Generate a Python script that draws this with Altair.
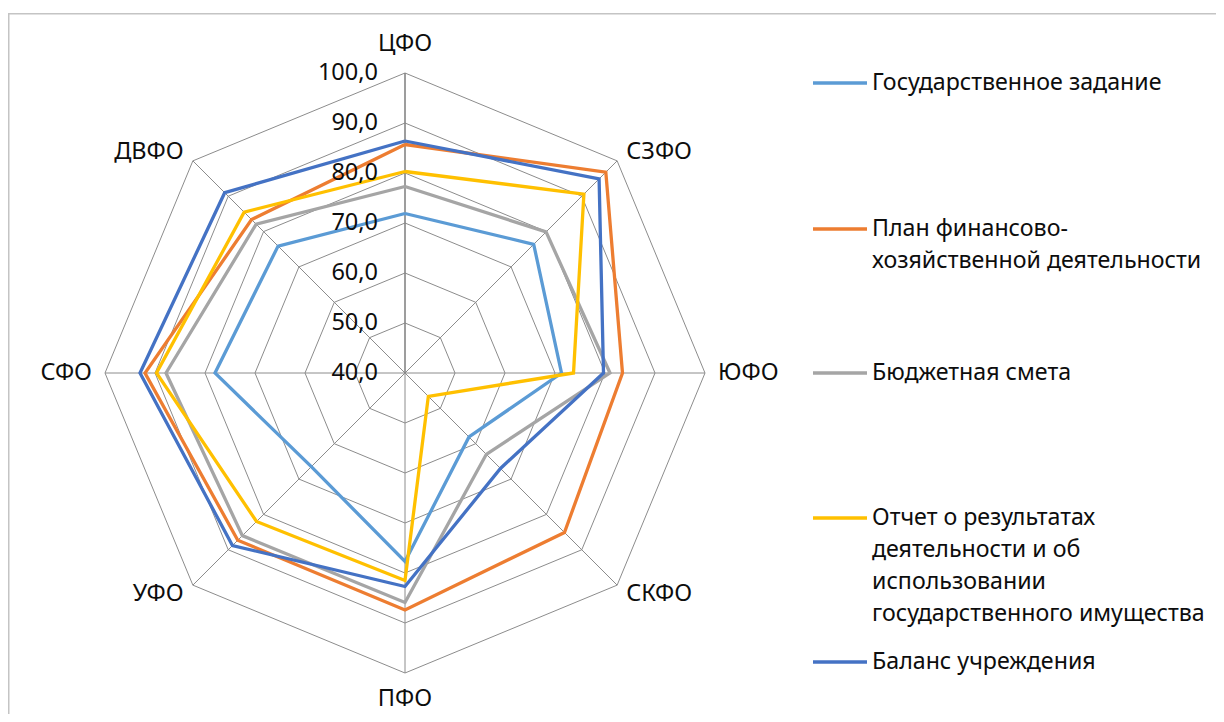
import altair as alt
import pandas as pd
import numpy as np

# ---------------- data ----------------
categories = ["ЦФО", "СЗФО", "ЮФО", "СКФО", "ПФО", "УФО", "СФО", "ДВФО"]
series_names = [
    "Государственное задание",
    "План финансово-хозяйственной деятельности",
    "Бюджетная смета",
    "Отчет о результатах деятельности и об использовании государственного имущества",
    "Баланс учреждения",
]
legend_lines = [
    ["Государственное задание"],
    ["План финансово-", "хозяйственной деятельности"],
    ["Бюджетная смета"],
    ["Отчет о результатах", "деятельности и об", "использовании", "государственного имущества"],
    ["Баланс учреждения"],
]
gos_zadanie = [71.9, 76.4, 71.3, 58.1, 77.7, 66.5, 78.0, 75.9]
plan_fhd = [85.7, 96.8, 83.5, 85.1, 87.4, 87.3, 92.0, 83.4]
byudzhet_smeta = [77.3, 79.9, 81.0, 63.0, 85.9, 86.0, 87.8, 82.1]
otchet = [80.3, 90.6, 73.7, 46.6, 81.5, 82.0, 89.7, 85.5]
balans = [86.4, 94.9, 79.7, 67.0, 82.7, 88.8, 93.0, 91.0]
series_values = [gos_zadanie, plan_fhd, byudzhet_smeta, otchet, balans]
ticks = [40, 50, 60, 70, 80, 90, 100]
tick_labels = ["40,0", "50,0", "60,0", "70,0", "80,0", "90,0", "100,0"]

# ---------------- styles ----------------
colors = ["#5B9BD5", "#ED7D31", "#A5A5A5", "#FFC000", "#4472C4"]
FONT = "Noto Sans"
TXT = "#0d0d0d"
GRID = "#8c8c8c"
W, H = 1208, 706
PX = 5.0  # pixels per value unit
CX, CY = 397.0, 365.0  # center in plot pixels
AXMIN = ticks[0]

xs = alt.Scale(domain=[-CX / PX, (W - CX) / PX], nice=False, zero=False)
ys = alt.Scale(domain=[-(H - CY) / PX, CY / PX], nice=False, zero=False)
X = lambda f: alt.X(f, type="quantitative", scale=xs, axis=None)
Y = lambda f: alt.Y(f, type="quantitative", scale=ys, axis=None)

n = len(categories)
ang = [2 * np.pi * i / n for i in range(n)]


def proj(v, i):
    r = v - AXMIN
    return r * np.sin(ang[i]), r * np.cos(ang[i])


def page_to_u(px):
    return (px - 8 - CX) / PX


def page_to_v(py):
    return (CY - (py - 8)) / PX


layers = []

# frame
frame = alt.Chart(pd.DataFrame({"a": [0]})).mark_rect(
    fill=None, stroke="#c4c4c4", strokeWidth=1.5
).encode(x=alt.value(0.75), y=alt.value(5.75), x2=alt.value(1400), y2=alt.value(900))
layers.append(frame)

# rings
rows = []
for t in ticks[1:]:
    for k in range(n + 1):
        x, y = proj(t, k % n)
        rows.append({"ring": t, "k": k, "x": x, "y": y})
rings = alt.Chart(pd.DataFrame(rows)).mark_line(color=GRID, strokeWidth=1).encode(
    x=X("x"), y=Y("y"), detail="ring:N", order="k:Q"
)
layers.append(rings)

# spokes
rows = []
for i in range(n):
    x, y = proj(ticks[-1], i)
    rows.append({"x": 0.0, "y": 0.0, "x2": x, "y2": y, "main": i == 0})
sp = pd.DataFrame(rows)
spokes = alt.Chart(sp[~sp.main]).mark_rule(color=GRID, strokeWidth=1).encode(
    x=X("x"), y=Y("y"), x2="x2", y2="y2"
)
main_axis = alt.Chart(sp[sp.main]).mark_rule(color="#858585", strokeWidth=1.6).encode(
    x=X("x"), y=Y("y"), x2="x2", y2="y2"
)
layers += [spokes, main_axis]

# series
for s, (name, vals) in enumerate(zip(series_names, series_values)):
    rows = []
    for k in range(n + 1):
        x, y = proj(vals[k % n], k % n)
        rows.append({"series": name, "category": categories[k % n], "k": k, "x": x, "y": y})
    layers.append(
        alt.Chart(pd.DataFrame(rows)).mark_line(color=colors[s], strokeWidth=3.3).encode(
            x=X("x"), y=Y("y"), order="k:Q"
        )
    )

# tick labels
tl = pd.DataFrame({"x": [0.0] * len(ticks), "y": [t - AXMIN for t in ticks], "label": tick_labels})
layers.append(
    alt.Chart(tl).mark_text(align="right", baseline="middle", dx=-27, font=FONT, fontSize=23.5, color=TXT).encode(
        x=X("x"), y=Y("y"), text="label:N"
    )
)

# category labels
label_style = [
    ("center", "bottom", 63.4),
    ("left", "middle", 62.6),
    ("left", "middle", 62.6),
    ("left", "middle", 62.6),
    ("center", "middle", 65.2),
    ("right", "middle", 62.6),
    ("right", "middle", 62.6),
    ("right", "middle", 62.6),
]
for i, cat in enumerate(categories):
    al, bl, rr = label_style[i]
    x, y = rr * np.sin(ang[i]), rr * np.cos(ang[i])
    layers.append(
        alt.Chart(pd.DataFrame({"x": [x], "y": [y], "label": [cat]})).mark_text(
            align=al, baseline=bl, font=FONT, fontSize=23.5, color=TXT
        ).encode(x=X("x"), y=Y("y"), text="label:N")
    )

# legend
leg_y = [83, 229, 373, 518, 662]
leg_lh = 32
sym = pd.DataFrame({
    "x": [page_to_u(813)] * 5, "x2": [page_to_u(867)] * 5,
    "y": [page_to_v(v) for v in leg_y], "c": series_names,
})
for s in range(5):
    layers.append(
        alt.Chart(sym.iloc[[s]]).mark_rule(color=colors[s], strokeWidth=3.3).encode(
            x=X("x"), x2="x2", y=Y("y")
        )
    )
rows = []
for s, lines in enumerate(legend_lines):
    for j, ln in enumerate(lines):
        rows.append({"x": page_to_u(872), "y": page_to_v(leg_y[s] + j * leg_lh), "t": ln})
layers.append(
    alt.Chart(pd.DataFrame(rows)).mark_text(align="left", baseline="middle", font=FONT, fontSize=23.2, color=TXT).encode(
        x=X("x"), y=Y("y"), text="t:N"
    )
)

chart = alt.layer(*layers).properties(
    width=W, height=H, autosize=alt.AutoSizeParams(type="none"), padding=0, background="white"
).configure_view(stroke=None)

chart.save("out.html", embed_options={"renderer": "svg", "actions": False})
